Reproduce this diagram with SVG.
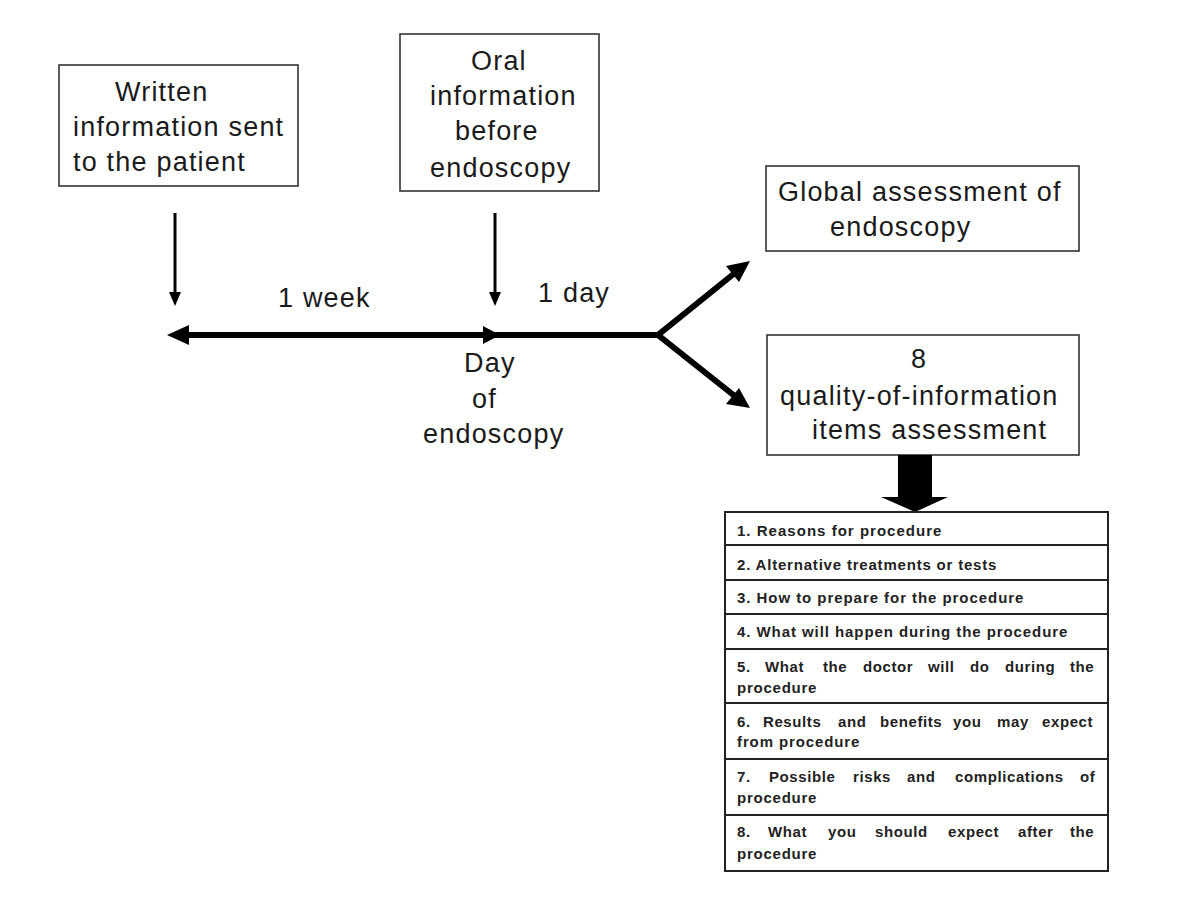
<svg xmlns="http://www.w3.org/2000/svg" width="1200" height="898" viewBox="0 0 1200 898">
<style>
.box{fill:#fff;stroke:#333;stroke-width:1.6}
.big{font-family:"Liberation Sans",Arial,sans-serif;font-size:27px;letter-spacing:1.2px;fill:#1a1a1a}
.sm{font-family:"Liberation Sans",Arial,sans-serif;font-size:15px;font-weight:bold;letter-spacing:0.6px;fill:#222}
.thin{stroke:#000;stroke-width:3;fill:none}
.thick{stroke:#000;stroke-width:6;fill:none;stroke-linejoin:miter}
.hd{fill:#000}
.row{fill:none;stroke:#222;stroke-width:2}
</style>
<rect width="1200" height="898" fill="#fff"/>

<g id="node-written">
<rect class="box" x="59" y="65" width="239" height="121"/>
<text class="big" x="115" y="101">Written</text>
<text class="big" x="73" y="136">information sent</text>
<text class="big" x="73" y="171">to the patient</text>
</g>

<g id="node-oral">
<rect class="box" x="400" y="34" width="199" height="157"/>
<text class="big" x="471" y="70">Oral</text>
<text class="big" x="430" y="105">information</text>
<text class="big" x="455" y="140">before</text>
<text class="big" x="430" y="177">endoscopy</text>
</g>

<g id="node-global">
<rect class="box" x="766" y="166" width="313" height="85"/>
<text class="big" x="778" y="201">Global assessment of</text>
<text class="big" x="830" y="236">endoscopy</text>
</g>

<g id="node-quality">
<rect class="box" x="767" y="335" width="312" height="120"/>
<text class="big" x="919" y="368" text-anchor="middle">8</text>
<text class="big" x="780" y="405">quality-of-information</text>
<text class="big" x="812" y="439">items assessment</text>
</g>

<g id="labels">
<text class="big" x="278" y="307">1 week</text>
<text class="big" x="538" y="302">1 day</text>
<text class="big" x="464" y="372">Day</text>
<text class="big" x="472" y="408">of</text>
<text class="big" x="423" y="443">endoscopy</text>
</g>

<g id="connectors">
<line class="thin" x1="175" y1="213" x2="175" y2="296"/>
<polygon class="hd" points="169,292 181,292 175,306"/>
<line class="thin" x1="495" y1="213" x2="495" y2="296"/>
<polygon class="hd" points="489,292 501,292 495,306"/>
<line class="thick" x1="180" y1="335" x2="658" y2="335"/>
<polygon class="hd" points="167,335 189,325 189,345"/>
<polygon class="hd" points="500,335 483,326 483,344"/>
<polyline class="thick" points="741,268 658,335 741,401"/>
<polygon class="hd" points="750,261 726,266 739,282"/>
<polygon class="hd" points="750,408 739,388 726,404"/>
<polygon class="hd" points="898,455 932,455 932,497 948,497 915,512 881,497 898,497"/>
</g>

<g id="node-items">
<rect class="row" x="725" y="512" width="383" height="359"/>
<line class="row" x1="725" y1="545" x2="1108" y2="545"/>
<line class="row" x1="725" y1="580" x2="1108" y2="580"/>
<line class="row" x1="725" y1="614" x2="1108" y2="614"/>
<line class="row" x1="725" y1="649" x2="1108" y2="649"/>
<line class="row" x1="725" y1="703" x2="1108" y2="703"/>
<line class="row" x1="725" y1="759" x2="1108" y2="759"/>
<line class="row" x1="725" y1="815" x2="1108" y2="815"/>
<text class="sm" x="737" y="536" textLength="205" lengthAdjust="spacing">1. Reasons for procedure</text>
<text class="sm" x="737" y="570" textLength="260" lengthAdjust="spacing">2. Alternative treatments or tests</text>
<text class="sm" x="737" y="603" textLength="287" lengthAdjust="spacing">3. How to prepare for the procedure</text>
<text class="sm" x="737" y="637" textLength="331" lengthAdjust="spacing">4. What will happen during the procedure</text>
<text class="sm" y="672"><tspan x="737">5.</tspan> <tspan x="765">What</tspan> <tspan x="823">the</tspan> <tspan x="863">doctor</tspan> <tspan x="928">will</tspan> <tspan x="970">do</tspan> <tspan x="1005">during</tspan> <tspan x="1070">the</tspan></text>
<text class="sm" x="737" y="693" textLength="80" lengthAdjust="spacing">procedure</text>
<text class="sm" y="727"><tspan x="737">6.</tspan> <tspan x="763">Results</tspan> <tspan x="838">and</tspan> <tspan x="880">benefits</tspan> <tspan x="953">you</tspan> <tspan x="997">may</tspan> <tspan x="1042">expect</tspan></text>
<text class="sm" x="737" y="747" textLength="123" lengthAdjust="spacing">from procedure</text>
<text class="sm" y="782"><tspan x="737">7.</tspan> <tspan x="769">Possible</tspan> <tspan x="853">risks</tspan> <tspan x="907">and</tspan> <tspan x="955">complications</tspan> <tspan x="1080">of</tspan></text>
<text class="sm" x="737" y="803" textLength="80" lengthAdjust="spacing">procedure</text>
<text class="sm" y="837"><tspan x="737">8.</tspan> <tspan x="768">What</tspan> <tspan x="828">you</tspan> <tspan x="875">should</tspan> <tspan x="948">expect</tspan> <tspan x="1018">after</tspan> <tspan x="1070">the</tspan></text>
<text class="sm" x="737" y="859" textLength="80" lengthAdjust="spacing">procedure</text>
</g>
</svg>
